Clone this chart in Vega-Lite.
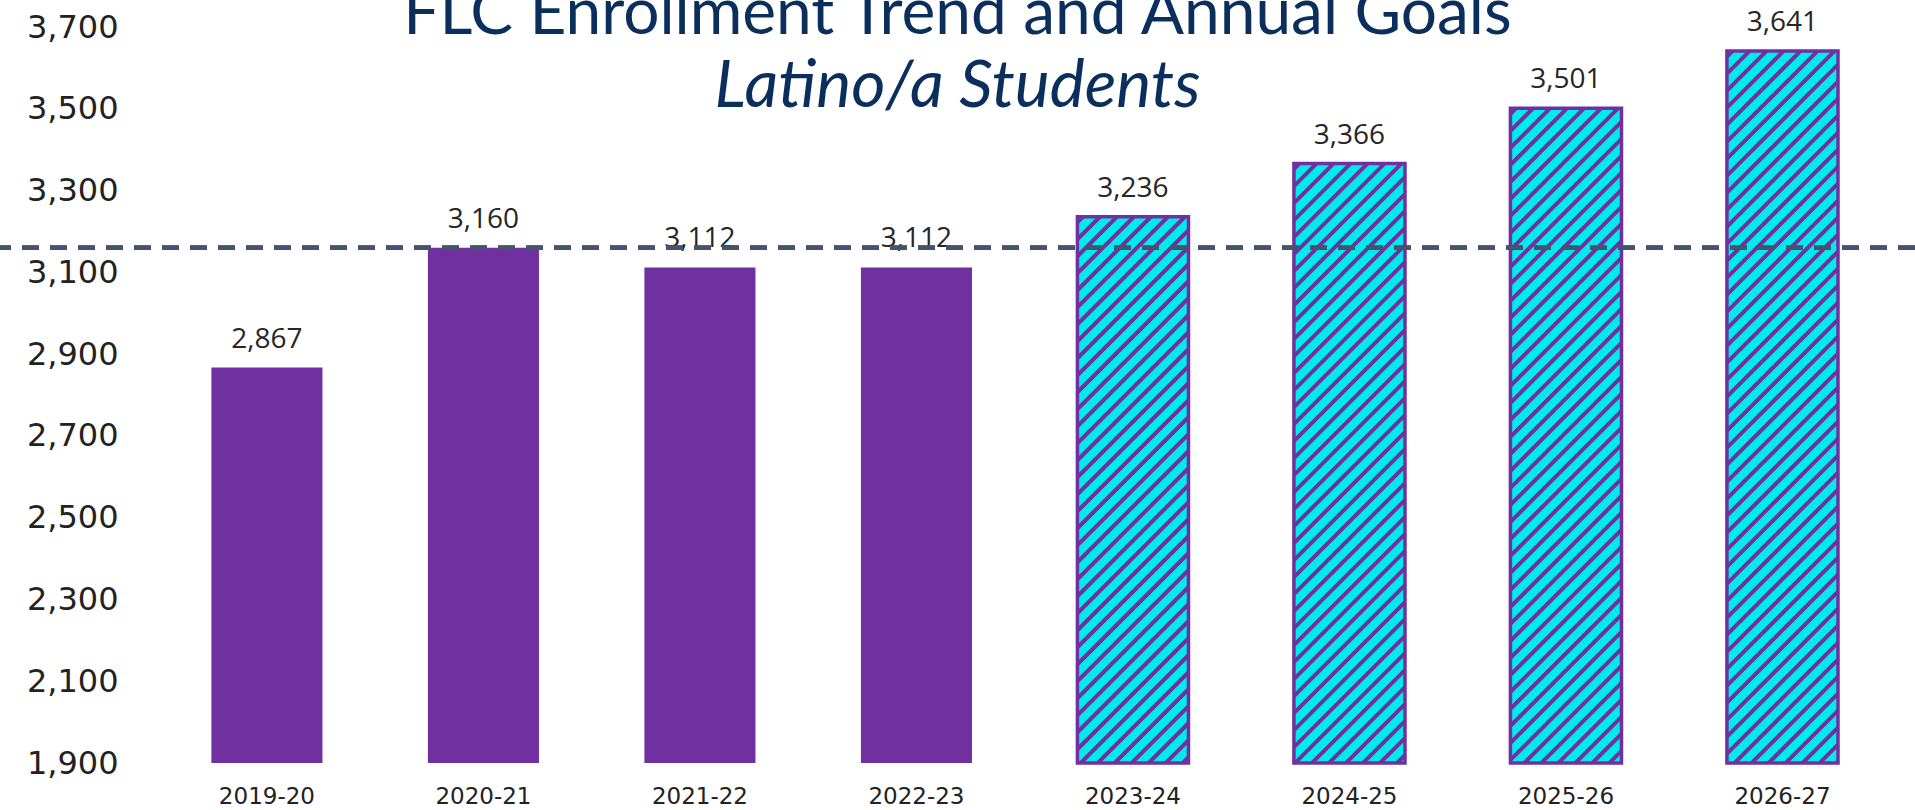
{
  "$schema": "https://vega.github.io/schema/vega-lite/v6.json",
  "autosize": "none",
  "width": 1915,
  "height": 736,
  "padding": {"left": 0, "top": 27, "right": 0, "bottom": 47},
  "background": "#ffffff",
  "config": {"view": {"stroke": null}},
  "title": {
    "text": "FLC Enrollment Trend and Annual Goals",
    "subtitle": "Latino/a Students",
    "anchor": "middle",
    "font": "Lato",
    "subtitleFont": "Lato",
    "fontSize": 64,
    "subtitleFontSize": 66,
    "fontWeight": "normal",
    "subtitleFontWeight": "normal",
    "subtitleFontStyle": "italic",
    "color": "#0A2F5C",
    "subtitleColor": "#0A2F5C",
    "subtitlePadding": 8,
    "offset": -111
  },
  "data": {
    "values": [
      {"year": "2019-20", "value": 2867, "type": "Actual"},
      {"year": "2020-21", "value": 3160, "type": "Actual"},
      {"year": "2021-22", "value": 3112, "type": "Actual"},
      {"year": "2022-23", "value": 3112, "type": "Actual"},
      {"year": "2023-24", "value": 3236, "type": "Goal"},
      {"year": "2024-25", "value": 3366, "type": "Goal"},
      {"year": "2025-26", "value": 3501, "type": "Goal"},
      {"year": "2026-27", "value": 3641, "type": "Goal"}
    ]
  },
  "encoding": {
    "x": {
      "field": "year",
      "type": "nominal",
      "sort": null,
      "scale": {"paddingInner": 0.487, "paddingOuter": 0.666, "align": 0.733},
      "axis": {
        "title": null,
        "domain": false,
        "ticks": false,
        "tickSize": 0,
        "labelAngle": 0,
        "labelFont": "DejaVu Sans",
        "labelFontSize": 23,
        "labelColor": "#222222",
        "labelPadding": 22
      }
    },
    "y": {
      "field": "value",
      "type": "quantitative",
      "scale": {"domain": [1900, 3700], "nice": false, "zero": false},
      "axis": {
        "title": null,
        "values": [1900, 2100, 2300, 2500, 2700, 2900, 3100, 3300, 3500, 3700],
        "format": ",.0f",
        "domain": false,
        "ticks": false,
        "tickSize": 0,
        "grid": false,
        "offset": -118,
        "labelPadding": 0,
        "labelFont": "DejaVu Sans",
        "labelFontSize": 32,
        "labelColor": "#222222"
      }
    }
  },
  "layer": [
    {
      "mark": {"type": "bar"},
      "encoding": {
        "y2": {"datum": 1900},
        "color": {
          "field": "type",
          "type": "nominal",
          "scale": {"domain": ["Actual", "Goal"], "range": ["#7030A0", "#00ECEC"]},
          "legend": null
        }
      }
    },
    {
      "transform": [{"filter": "datum.type === 'Goal'"}],
      "mark": {
        "type": "point",
        "clip": true,
        "filled": false,
        "size": 4,
        "opacity": 1,
        "color": "#7030A0",
        "strokeWidth": 4,
        "strokeCap": "butt",
        "shape": "M-55.5 5.5L-50 0M-55.5 22.5L-33 0M-55.5 39.5L-16 0M-55.5 56.5L1 0M-55.5 73.5L18 0M-55.5 90.5L35 0M-55.5 107.5L52 0M-55.5 124.5L55.5 13.5M-55.5 141.5L55.5 30.5M-55.5 158.5L55.5 47.5M-55.5 175.5L55.5 64.5M-55.5 192.5L55.5 81.5M-55.5 209.5L55.5 98.5M-55.5 226.5L55.5 115.5M-55.5 243.5L55.5 132.5M-55.5 260.5L55.5 149.5M-55.5 277.5L55.5 166.5M-55.5 294.5L55.5 183.5M-55.5 311.5L55.5 200.5M-55.5 328.5L55.5 217.5M-55.5 345.5L55.5 234.5M-55.5 362.5L55.5 251.5M-55.5 379.5L55.5 268.5M-55.5 396.5L55.5 285.5M-55.5 413.5L55.5 302.5M-55.5 430.5L55.5 319.5M-55.5 447.5L55.5 336.5M-55.5 464.5L55.5 353.5M-55.5 481.5L55.5 370.5M-55.5 498.5L55.5 387.5M-55.5 515.5L55.5 404.5M-55.5 532.5L55.5 421.5M-55.5 549.5L55.5 438.5M-55.5 566.5L55.5 455.5M-55.5 583.5L55.5 472.5M-55.5 600.5L55.5 489.5M-55.5 617.5L55.5 506.5M-55.5 634.5L55.5 523.5M-55.5 651.5L55.5 540.5M-55.5 668.5L55.5 557.5M-55.5 685.5L55.5 574.5M-55.5 702.5L55.5 591.5M-55.5 719.5L55.5 608.5M-55.5 736.5L55.5 625.5M-55.5 753.5L55.5 642.5M-55.5 770.5L55.5 659.5M-55.5 787.5L55.5 676.5M-55.5 804.5L55.5 693.5M-55.5 821.5L55.5 710.5M-55.5 838.5L55.5 727.5"
      }
    },
    {
      "transform": [{"filter": "datum.type === 'Goal'"}],
      "mark": {
        "type": "bar",
        "fill": "transparent",
        "fillOpacity": 0,
        "stroke": "#7030A0",
        "strokeWidth": 3.5
      },
      "encoding": {"y2": {"datum": 1900}}
    },
    {
      "mark": {
        "type": "text",
        "baseline": "alphabetic",
        "dy": -20,
        "font": "Open Sans",
        "fontSize": 28,
        "color": "#262626"
      },
      "encoding": {"text": {"field": "value", "type": "quantitative", "format": ","}}
    },
    {
      "mark": {
        "type": "rule",
        "color": "#44546A",
        "strokeWidth": 4,
        "strokeDash": [17, 11]
      },
      "encoding": {"x": null, "y": {"datum": 3160}}
    }
  ]
}
